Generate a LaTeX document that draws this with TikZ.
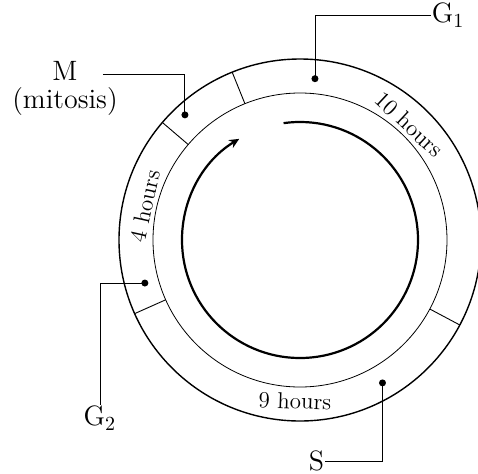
\documentclass[tikz,border=0pt]{standalone}
\usepackage{fontspec}
\usetikzlibrary{arrows.meta,positioning}
\tikzset{
  rim/.style={line width=0.7pt},
  ring/.style={line width=0.4pt},
  cycarr/.style={-{Stealth[length=5pt,width=4.5pt]},line width=1.1pt},
  lead/.style={line width=0.45pt},
  divider/.style={line width=0.45pt},
  phdot/.style={circle,fill,inner sep=0pt,minimum size=3.5pt},
  hrs/.style={font=\fontsize{11.5}{13}\selectfont,inner sep=0pt},
  lbl/.style={font=\fontsize{14}{14}\selectfont,inner sep=0.3pt},
}

\begin{document}
\begin{tikzpicture}[x=0.5pt,y=0.5pt]
\useasboundingbox (-300,-233) rectangle (178,240);
% rings
\draw[rim] (0,0) circle (181);
\draw[ring] (0,0) circle (147);
\foreach \a in {112,139.5,204,-28} \draw[divider] (\a:147) -- (\a:181);
% cycle arrow
\draw[cycarr] (98:118) arc[start angle=98,end angle=-239,radius=118];
% durations
\node[hrs,rotate=-43] (h10) at (46.6:159) {10 hours};
\node[hrs,rotate=77.6] (h4) at (167.6:159) {4 hours};
\node[hrs,rotate=-2] (h9) at (-91.8:161) {9 hours};
% phase points
\node[phdot] (dotM) at (132.6:170) {};
\node[phdot] (dotG1) at (84.7:162) {};
\node[phdot] (dotG2) at (195.5:161) {};
\node[phdot] (dotS) at (-60:165) {};
% labels
\node[lbl,align=center] (mlab) at (-235,152) {M\\(mitosis)};
\coordinate (mlead) at (-197,166);
\node[lbl,anchor=west] (g1lab) at (131,225) {G$_1$};
\node[lbl,anchor=north] (g2lab) at (-200,-165) {G$_2$};
\node[lbl,anchor=east] (slab) at (25,-221) {S};
\draw[lead] (mlead) -| (dotM.center);
\draw[lead] (dotG1.center) |- (g1lab.west);
\draw[lead] (dotG2.center) -| (g2lab.north);
\draw[lead] (dotS.center) |- (slab.east);
\end{tikzpicture}
\end{document}
